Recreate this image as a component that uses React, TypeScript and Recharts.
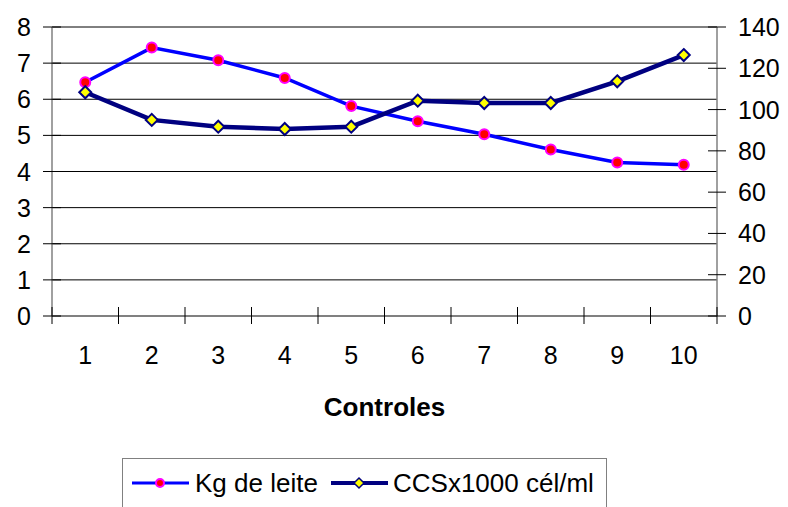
import React from "react";
import { LineChart, Line, XAxis, YAxis, CartesianGrid, Legend } from "recharts";

const categories = ["1", "2", "3", "4", "5", "6", "7", "8", "9", "10"];
const kgLeite = [6.47, 7.43, 7.08, 6.59, 5.81, 5.39, 5.03, 4.61, 4.25, 4.19];
const ccs = [108.4, 95.0, 91.7, 90.6, 91.7, 104.3, 103.2, 103.2, 113.7, 126.4];
const leftTicks = [0, 1, 2, 3, 4, 5, 6, 7, 8];
const rightTicks = [0, 20, 40, 60, 80, 100, 120, 140];

const data = categories.map((c, i) => ({ name: c, kg: kgLeite[i], ccs: ccs[i] }));

const W = 788;
const H = 507;
const LEFT_W = 52;
const RIGHT_W = 71;
const BAND = (W - LEFT_W - RIGHT_W) / categories.length;
const FONT = "'Liberation Sans', Arial, sans-serif";
const AXIS = "#808080";

const LeftTick = (props: any) => {
  const { x, y, payload } = props;
  return (
    <g>
      <line x1={x - 9} x2={x + 9} y1={y} y2={y} stroke="#000" strokeWidth={1} />
      <text x={x - 21} y={y + 9} textAnchor="end" fontSize={25} fontFamily={FONT} fill="#000">
        {payload.value}
      </text>
    </g>
  );
};

const RightTick = (props: any) => {
  const { x, y, payload } = props;
  return (
    <g>
      <line x1={x - 9} x2={x + 9} y1={y} y2={y} stroke="#000" strokeWidth={1} />
      <text x={x + 21} y={y + 9} textAnchor="start" fontSize={25} fontFamily={FONT} fill="#000">
        {payload.value}
      </text>
    </g>
  );
};

const BottomTick = (props: any) => {
  const { x, y, payload, index } = props;
  const last = index === categories.length - 1;
  return (
    <g>
      <line x1={x - BAND / 2} x2={x - BAND / 2} y1={y - 9} y2={y + 8} stroke="#000" strokeWidth={1} />
      {last && <line x1={x + BAND / 2} x2={x + BAND / 2} y1={y - 9} y2={y + 8} stroke="#000" strokeWidth={1} />}
      <text x={x} y={y + 48} textAnchor="middle" fontSize={25} fontFamily={FONT} fill="#000">
        {payload.value}
      </text>
    </g>
  );
};

// marker sizes are fixed here, recharts passes its own r to dots
const CircleDot = (props: any) => {
  const { cx, cy } = props;
  if (cx == null || cy == null) return null;
  return <circle cx={cx} cy={cy} r={5} fill="#FF0000" stroke="#FF00FF" strokeWidth={2} />;
};

const DiamondDot = (props: any) => {
  const { cx, cy } = props;
  const s = 6;
  if (cx == null || cy == null) return null;
  return (
    <polygon
      points={`${cx},${cy - s} ${cx + s},${cy} ${cx},${cy + s} ${cx - s},${cy}`}
      fill="#FFFF00"
      stroke="#000080"
      strokeWidth={2}
    />
  );
};

const LegendBox = () => (
  <div
    style={{
      boxSizing: "border-box",
      width: 485,
      height: 70,
      border: `1px solid ${AXIS}`,
      background: "#fff",
    }}
  >
    <svg width={483} height={60}>
      <line x1={9} x2={66} y1={24} y2={24} stroke="#0000FF" strokeWidth={3} />
      <circle cx={37} cy={24} r={4} fill="#FF0000" stroke="#FF00FF" strokeWidth={2} />
      <text x={72} y={33} fontSize={26} fontFamily={FONT} fill="#000">
        Kg de leite
      </text>
      <line x1={208} x2={265} y1={24} y2={24} stroke="#000080" strokeWidth={4} />
      <polygon points="236,19 241,24 236,29 231,24" fill="#FFFF00" stroke="#000080" strokeWidth={1.5} />
      <text x={270} y={33} fontSize={26} fontFamily={FONT} fill="#000">
        CCSx1000 cél/ml
      </text>
    </svg>
  </div>
);

export default function App() {
  return (
    <div style={{ position: "absolute", left: 0, top: 0, width: W, height: H, overflow: "hidden", background: "#fff" }}>
      <LineChart width={W} height={H} data={data} margin={{ top: 27, right: 0, bottom: 0, left: 0 }}>
        <CartesianGrid yAxisId="left" horizontal vertical={false} stroke="#000" strokeWidth={1} />
        <XAxis
          dataKey="name"
          height={191}
          interval={0}
          padding={{ left: BAND / 2, right: BAND / 2 }}
          axisLine={{ stroke: AXIS, strokeWidth: 1.5 }}
          tickLine={false}
          tickSize={0}
          tickMargin={0}
          tick={<BottomTick />}
          label={{
            content: (p: any) => (
              <text
                x={p.viewBox.x + p.viewBox.width / 2}
                y={p.viewBox.y + 100}
                textAnchor="middle"
                fontSize={26}
                fontWeight="bold"
                fontFamily={FONT}
                fill="#000"
              >
                Controles
              </text>
            ),
          }}
        />
        <YAxis
          yAxisId="left"
          width={LEFT_W}
          domain={[0, 8]}
          ticks={leftTicks}
          interval={0}
          axisLine={{ stroke: AXIS, strokeWidth: 1.5 }}
          tickLine={false}
          tickSize={0}
          tickMargin={0}
          tick={<LeftTick />}
        />
        <YAxis
          yAxisId="right"
          orientation="right"
          width={RIGHT_W}
          domain={[0, 140]}
          ticks={rightTicks}
          interval={0}
          axisLine={{ stroke: AXIS, strokeWidth: 1.5 }}
          tickLine={false}
          tickSize={0}
          tickMargin={0}
          tick={<RightTick />}
        />
        <Line
          yAxisId="left"
          dataKey="kg"
          name="Kg de leite"
          type="linear"
          stroke="#0000FF"
          strokeWidth={3.5}
          dot={<CircleDot />}
          activeDot={false}
          isAnimationActive={false}
        />
        <Line
          yAxisId="right"
          dataKey="ccs"
          name="CCSx1000 cél/ml"
          type="linear"
          stroke="#000080"
          strokeWidth={4.5}
          dot={<DiamondDot />}
          activeDot={false}
          isAnimationActive={false}
        />
        <Legend
          layout="horizontal"
          verticalAlign="middle"
          align="center"
          content={<LegendBox />}
          wrapperStyle={{ left: 122, top: 458, width: 485, height: 70 }}
        />
      </LineChart>
    </div>
  );
}
